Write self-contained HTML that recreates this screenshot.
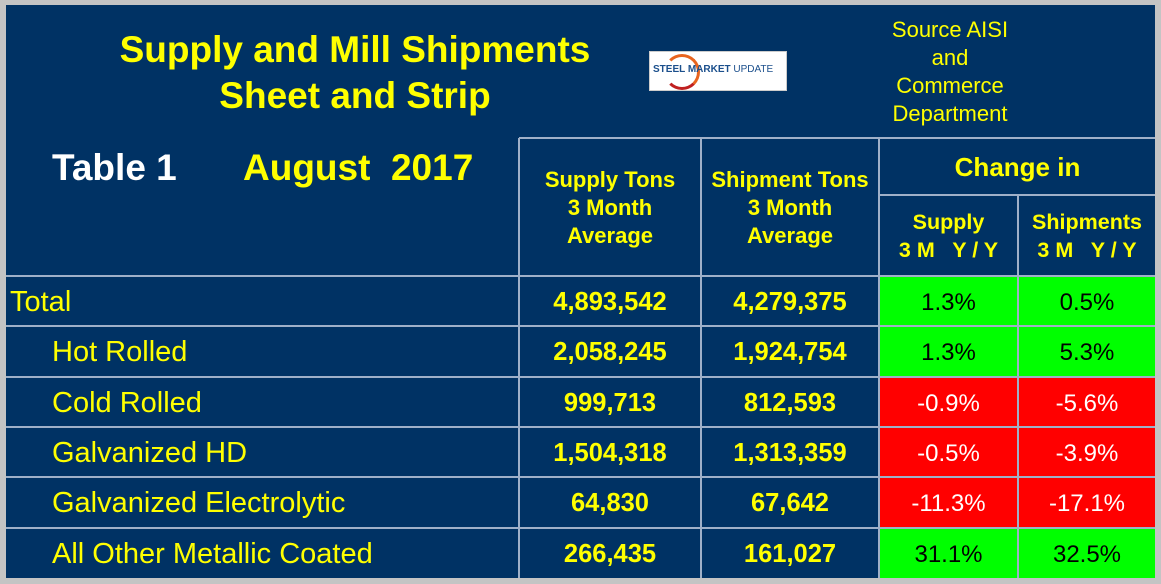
<!DOCTYPE html>
<html><head><meta charset="utf-8"><style>
body{margin:0;width:1161px;height:584px;background:#c4c4c4;position:relative;overflow:hidden;font-family:"Liberation Sans",Arial,sans-serif}
.a{position:absolute}
.bg{left:6px;top:5px;width:1149px;height:573px;background:#003264}
.h{height:2px;background:#9fb0c8}
.v{width:2px;background:#9fb0c8}
.t{color:#ffff00;text-align:center}
.c{display:flex;align-items:center;justify-content:center}
.lab{color:#ffff00;font-size:29px;height:50px;line-height:52px}
.num{color:#ffff00;font-weight:bold;font-size:25.5px;text-align:center;height:50px;line-height:52px}
.pct{font-size:24px;text-align:center;height:49px;line-height:51px}
</style></head><body>
<div class="a bg"></div>
<div class="a t" style="left:60px;top:27px;width:590px;font-weight:bold;font-size:37px;line-height:46px">Supply and Mill Shipments<br>Sheet and Strip</div>
<div class="a" style="left:649px;top:51px;width:136px;height:38px;background:#fff;border:1px solid #ccc">
<div class="a" style="left:14px;top:2px;width:30px;height:30px;border-radius:50%;border:3px solid #e8641e;border-left-color:transparent;border-bottom-color:#c02020"></div>
<div class="a" style="left:3px;top:12px;font-size:10px;font-weight:bold;color:#1b4f8c;white-space:nowrap">STEEL MARKET <span style="font-weight:normal">UPDATE</span></div></div>
<div class="a t" style="left:850px;top:16px;width:200px;font-size:22px;line-height:28px">Source AISI<br>and<br>Commerce<br>Department</div>
<div class="a" style="left:52px;top:147px;color:#fff;font-weight:bold;font-size:37px">Table 1</div>
<div class="a" style="left:243px;top:147px;color:#ffff00;font-weight:bold;font-size:37px">August&nbsp; 2017</div>
<div class="a h" style="left:519px;top:137px;width:636px"></div>
<div class="a h" style="left:878px;top:194px;width:277px"></div>
<div class="a v" style="left:518px;top:138px;height:440px"></div>
<div class="a v" style="left:700px;top:138px;height:440px"></div>
<div class="a v" style="left:878px;top:138px;height:440px"></div>
<div class="a v" style="left:1017px;top:195px;height:383px"></div>
<div class="a t c" style="left:520px;top:166px;width:180px;font-weight:bold;font-size:22px;line-height:28px">Supply Tons<br>3 Month<br>Average</div>
<div class="a t c" style="left:702px;top:166px;width:176px;font-weight:bold;font-size:22px;line-height:28px">Shipment Tons<br>3 Month<br>Average</div>
<div class="a t" style="left:880px;top:152px;width:275px;font-weight:bold;font-size:26px">Change in</div>
<div class="a t" style="left:880px;top:208px;width:137px;font-weight:bold;font-size:21.5px;line-height:28px">Supply<br>3 M &nbsp; Y / Y</div>
<div class="a t" style="left:1019px;top:208px;width:136px;font-weight:bold;font-size:21.5px;line-height:28px">Shipments<br>3 M &nbsp; Y / Y</div>
<div id="rows"></div>
<script>
const labels=["Total","Hot Rolled","Cold Rolled","Galvanized HD","Galvanized Electrolytic","All Other Metallic Coated"];
const supply=["4,893,542","2,058,245","999,713","1,504,318","64,830","266,435"];
const ship=["4,279,375","1,924,754","812,593","1,313,359","67,642","161,027"];
const supChg=[1.3,1.3,-0.9,-0.5,-11.3,31.1];
const shipChg=[0.5,5.3,-5.6,-3.9,-17.1,32.5];
const R=document.getElementById('rows');
function add(css,cls,txt,name){const d=document.createElement('div');d.className='a '+cls;d.style.cssText=css;d.textContent=txt;


R.appendChild(d);return d;}
labels.forEach((l,i)=>{const y=276+i*50.3;
add(`left:6px;top:${y-1}px;width:1149px;height:2px`,'h','','row-divider');
add(`left:${i?52:10}px;top:${y}px`,'lab',l,'row-label');
add(`left:520px;top:${y}px;width:180px`,'num',supply[i],'supply-value');
add(`left:702px;top:${y}px;width:176px`,'num',ship[i],'shipment-value');
[[supChg[i],880,137,'supply-change'],[shipChg[i],1019,136,'shipment-change']].forEach(([v,x,w,n])=>{
const pos=v>=0;add(`left:${x}px;top:${y+1}px;width:${w}px;background:${pos?'#00ff00':'#ff0000'};color:${pos?'#000':'#fff'}`,'pct',v.toFixed(1)+'%',n);});
});
</script>
</body></html>
